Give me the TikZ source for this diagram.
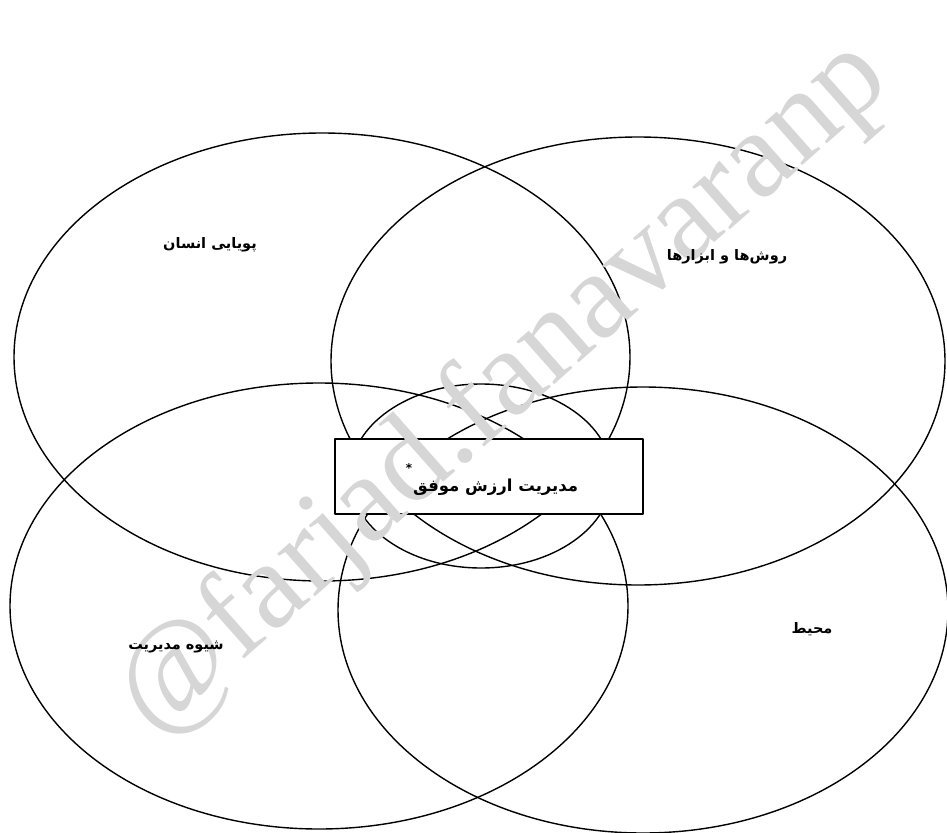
\documentclass[tikz,border=0pt]{standalone}
\usepackage{fontspec}
\setmainfont{Liberation Serif}
\newfontfamily\farsi[Script=Arabic]{DejaVu Sans}
\TeXXeTstate=1
\definecolor{kamrang}{HTML}{D6D6D6}

\begin{document}
\begin{tikzpicture}[x=1pt, y=-1pt, line cap=round, line join=round,
	halqe/.style={draw=black, line width=1.4pt},
	barchasb/.style={font=\farsi\bfseries\fontsize{14.5}{16}\selectfont, inner sep=0pt},
	kadr/.style={draw=black, line width=1.2pt, fill=white, minimum width=308pt, minimum height=75pt, inner sep=0pt},
	neshan/.style={text=kamrang, font=\fontsize{124}{124}\selectfont, inner sep=0pt}]
	\useasboundingbox (0,0) rectangle (947,832);
	
	% چهار بیضی بزرگ و بیضی میانی
	\foreach \cx/\cy/\rx/\ry in {322/357/308/224, 638/361/307/224, 319/606/309/223, 643/610/305/223, 481/476/131/92} {
		\draw[halqe] (\cx,\cy) ellipse [x radius=\rx, y radius=\ry];
	}
	
	% کادر وسط
	\node[kadr] (markaz) at (489,476.5) {};
	
	% نشان
	\node[neshan, rotate=41.5] (emza) at (504,389) {@farjad.fanavaranp};
	
	% متن کادر و نام بیضی‌ها
	\node[barchasb, font=\farsi\bfseries\fontsize{16.5}{18}\selectfont] (arzesh) at (492,480)
		{\raisebox{2.1ex}{\fontsize{12}{12}\selectfont *}\kern1pt\beginR مدیریت ارزش موفق\endR};
	\node[barchasb] (ensan) at (210,245) {\beginR پویایی انسان\endR};
	\node[barchasb] (abzar) at (727,257) {\beginR روش‌ها و ابزارها\endR};
	\node[barchasb] (shive) at (176,647) {\beginR شیوه مدیریت\endR};
	\node[barchasb] (mohit) at (812,629) {\beginR محیط\endR};
\end{tikzpicture}
\end{document}
